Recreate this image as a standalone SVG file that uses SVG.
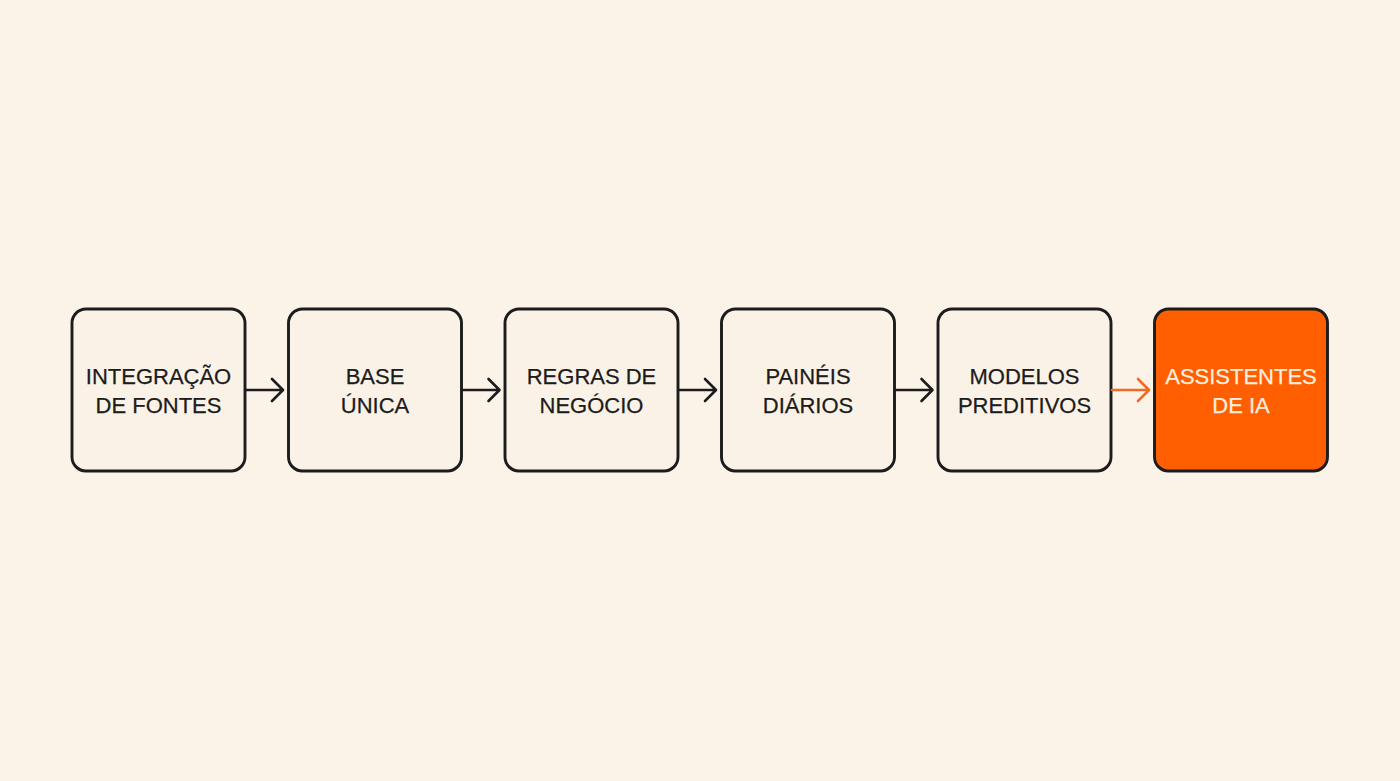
<svg xmlns="http://www.w3.org/2000/svg" width="1400" height="781" viewBox="0 0 1400 781">
<defs>
<style>
.box{fill:#FBF2E7;stroke:#1C1C1C;stroke-width:2.9}
.hl{fill:#FF5F00;stroke:#1C1C1C;stroke-width:2.9}
.t{font-family:"Liberation Sans",Arial,sans-serif;font-size:22px;fill:#1C1C1C;text-anchor:middle;stroke:#1C1C1C;stroke-width:0.25}
.tw{fill:#FFEEDD;stroke:#FFEEDD}
.c{fill:none;stroke:#1C1C1C;stroke-width:2.6;stroke-linecap:round;stroke-linejoin:round}
.co{stroke:#F26A22}
</style>
</defs>
<rect width="1400" height="781" fill="#FBF3E8"/>
<g id="n1"><rect class="box" x="72" y="309" width="173" height="162" rx="14"/><text class="t" x="158.5" y="384">INTEGRAÇÃO</text><text class="t" x="158.5" y="413">DE FONTES</text></g>
<g id="n2"><rect class="box" x="288.5" y="309" width="173" height="162" rx="14"/><text class="t" x="375" y="384">BASE</text><text class="t" x="375" y="413">ÚNICA</text></g>
<g id="n3"><rect class="box" x="505" y="309" width="173" height="162" rx="14"/><text class="t" x="591.5" y="384">REGRAS DE</text><text class="t" x="591.5" y="413">NEGÓCIO</text></g>
<g id="n4"><rect class="box" x="721.5" y="309" width="173" height="162" rx="14"/><text class="t" x="808" y="384">PAINÉIS</text><text class="t" x="808" y="413">DIÁRIOS</text></g>
<g id="n5"><rect class="box" x="938" y="309" width="173" height="162" rx="14"/><text class="t" x="1024.5" y="384">MODELOS</text><text class="t" x="1024.5" y="413">PREDITIVOS</text></g>
<g id="n6"><rect class="hl" x="1154.5" y="309" width="173" height="162" rx="14"/><text class="t tw" x="1241" y="384">ASSISTENTES</text><text class="t tw" x="1241" y="413">DE IA</text></g>
<g id="connectors">
<path class="c" d="M246 390H282M272 379L283 390L272 401"/>
<path class="c" d="M462.5 390H498.5M488.5 379L499.5 390L488.5 401"/>
<path class="c" d="M679 390H715M705 379L716 390L705 401"/>
<path class="c" d="M895.5 390H931.5M921.5 379L932.5 390L921.5 401"/>
<path class="c co" d="M1112 390H1148M1138 379L1149 390L1138 401"/>
</g>
</svg>
